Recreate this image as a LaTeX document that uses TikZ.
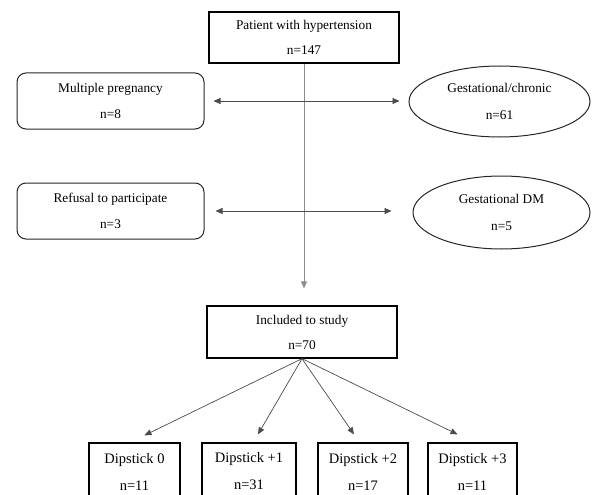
\documentclass[tikz,border=0pt]{standalone}
\usepackage{fontspec}
\setmainfont{Liberation Serif}
\usetikzlibrary{arrows.meta,shapes.geometric}

\begin{document}
\begin{tikzpicture}[
    x=1pt, y=-1pt,
    box/.style={rectangle, draw=black, line width=1.3pt, align=center, inner sep=0pt, font=\fontsize{13.3}{25}\selectfont},
    excl/.style={rectangle, rounded corners=9pt, draw=black!85, line width=1pt, align=center, inner sep=0pt, font=\fontsize{13.3}{26}\selectfont},
    oval/.style={ellipse, draw=black!85, line width=1pt, align=center, inner sep=0pt, font=\fontsize{13.3}{27}\selectfont},
    dipbox/.style={box, font=\fontsize{14.5}{27}\selectfont},
    flow/.style={-{Triangle[length=7pt,width=6pt]}, black!70, line width=0.7pt},
    trunk/.style={-{Triangle[length=7pt,width=6pt]}, black!45, line width=0.8pt},
    both/.style={{Triangle[length=7pt,width=6pt]}-{Triangle[length=7pt,width=6pt]}, black!70, line width=0.7pt}
]
\useasboundingbox (0,0) rectangle (592,495);

% Main flow
\node[box, minimum width=190, minimum height=51] (patient) at (304, 37.5) {Patient with hypertension\\n=147};
\node[box, minimum width=190, minimum height=52] (incl) at (302, 332) {Included to study\\n=70};

% Excluded (left) and diagnoses (right)
\node[excl, minimum width=187, minimum height=56] (multi) at (110.5, 101) {Multiple pregnancy\\n=8};
\node[excl, minimum width=187, minimum height=56] (refusal) at (110.5, 211) {Refusal to participate\\n=3};
\node[oval, minimum width=181, minimum height=71] (chronic) at (499.5, 101.5) {Gestational/chronic\\n=61};
\node[oval, minimum width=177, minimum height=73] (gdm) at (501.5, 212.5) {Gestational DM\\n=5};

% Dipstick groups
\node[dipbox, minimum width=91, minimum height=57] (dip0) at (134.5, 471.5) {Dipstick 0\\n=11};
\node[dipbox, minimum width=94, minimum height=57] (dip1) at (249, 471.5) {Dipstick +1\\n=31};
\node[dipbox, minimum width=90, minimum height=57] (dip2) at (363, 471.5) {Dipstick +2\\n=17};
\node[dipbox, minimum width=89, minimum height=57] (dip3) at (472.5, 471.5) {Dipstick +3\\n=11};

% Arrows
\draw[trunk, shorten >=17pt] (patient.south) -- (patient.south |- incl.north);
\draw[both, shorten <=9pt, shorten >=9pt] (multi.east) -- (multi.east -| chronic.west);
\draw[both, shorten <=11pt, shorten >=21pt] (refusal.east) -- (refusal.east -| gdm.west);

\draw[flow] (incl.south) -- ([xshift=10pt, yshift=7pt]dip0.north);
\draw[flow] (incl.south) -- ([xshift=9pt, yshift=8pt]dip1.north);
\draw[flow] (incl.south) -- ([xshift=-9pt, yshift=8pt]dip2.north);
\draw[flow] (incl.south) -- ([xshift=-15pt, yshift=8pt]dip3.north);

\end{tikzpicture}
\end{document}
